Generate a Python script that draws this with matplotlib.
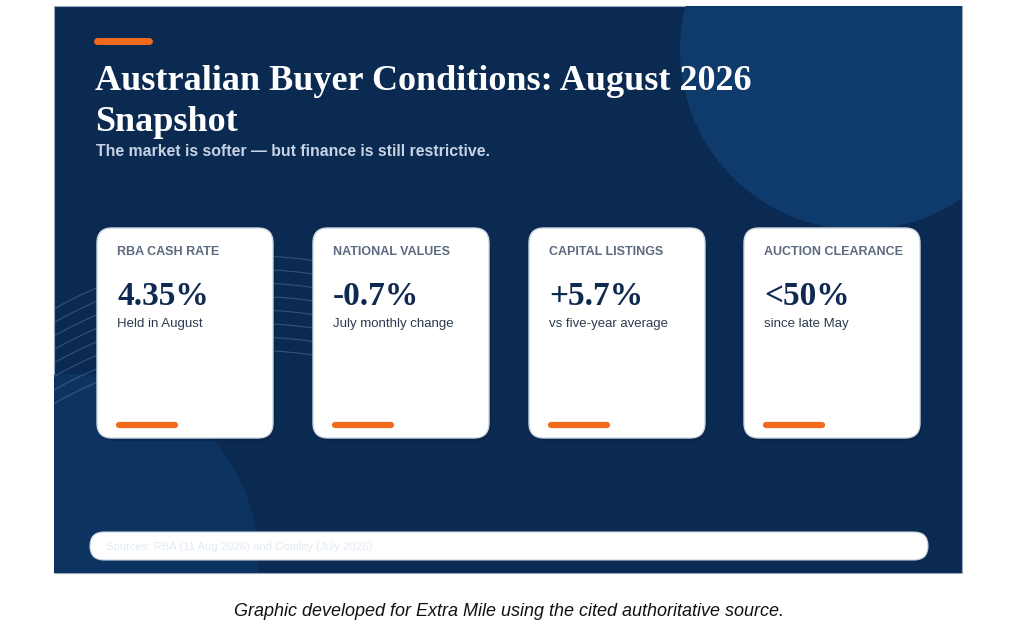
import matplotlib
matplotlib.use("Agg")
import matplotlib.pyplot as plt
from matplotlib.patches import FancyBboxPatch, Rectangle, Circle, Arc

# card data
labels = ["RBA CASH RATE", "NATIONAL VALUES", "CAPITAL LISTINGS", "AUCTION CLEARANCE"]
values = ["4.35%", "-0.7%", "+5.7%", "<50%"]
notes = ["Held in August", "July monthly change", "vs five-year average", "since late May"]

title_lines = ["Australian Buyer Conditions: August 2026", "Snapshot"]
subtitle = "The market is softer \u2014 but finance is still restrictive."
source = "Sources: RBA (11 Aug 2026) and Cotality (July 2026)"
caption = "Graphic developed for Extra Mile using the cited authoritative source."

NAVY = "#0a2a52"
ORANGE = "#f26b1d"

fig = plt.figure(figsize=(10.24, 6.4), dpi=100)
ax = fig.add_axes([0, 0, 1, 1])
ax.set_xlim(0, 1024)
ax.set_ylim(640, 0)
ax.axis("off")

# panel + decoration
panel = Rectangle((54, 6), 908, 567, facecolor=NAVY, edgecolor="#9aa8ba", lw=0.8, zorder=0)
ax.add_patch(panel)

deco = [Circle((860, 50), 180, facecolor="#0f3a6c", edgecolor="none", zorder=1),
        Circle((72, 560), 186, facecolor="#0d3361", edgecolor="none", zorder=1)]
for i in range(8):
    deco.append(Arc((253, 656 + 13.5 * i), 800, 800, theta1=-122, theta2=-79,
                    color="#7d9ccc", lw=0.8, alpha=0.35, zorder=1))
for p in deco:
    ax.add_patch(p)
    p.set_clip_path(panel)

# header
ax.plot([97, 149], [41, 41], color=ORANGE, lw=5, solid_capstyle="round", zorder=3)
for k, line in enumerate(title_lines):
    ax.text(95, 90 + 41 * k, line, color="white", fontsize=26, fontweight="bold",
            family="Liberation Serif", va="baseline", zorder=3)
ax.text(96, 152, subtitle, color="#c8d3e4", fontsize=11.4, fontweight="bold",
        family="Liberation Sans", va="center", zorder=3)

# cards
card_x = [97, 313, 529, 744]
card_w = 176
for x0, lab, val, note in zip(card_x, labels, values, notes):
    ax.add_patch(FancyBboxPatch((x0 + 2, 231), card_w, 210,
                                boxstyle="round,pad=0,rounding_size=15",
                                facecolor="#06193a", edgecolor="none", alpha=0.35, zorder=2))
    ax.add_patch(FancyBboxPatch((x0, 228), card_w, 210,
                                boxstyle="round,pad=0,rounding_size=15",
                                facecolor="white", edgecolor="#cfd8e3", lw=1, zorder=3))
    ax.text(x0 + 20, 252, lab, color="#5b6a7f", fontsize=9, fontweight="bold",
            family="Liberation Sans", va="center", zorder=4)
    ax.text(x0 + 20, 305, val, color="#0e2a50", fontsize=24, fontweight="bold",
            family="Liberation Serif", va="baseline", zorder=4)
    ax.text(x0 + 20, 324, note, color="#2c3b50", fontsize=9.5,
            family="Liberation Sans", va="center", zorder=4)
    ax.plot([x0 + 22, x0 + 78], [425, 425], color=ORANGE, lw=4.5,
            solid_capstyle="round", zorder=4)

# source pill
ax.add_patch(FancyBboxPatch((90, 532), 838, 28, boxstyle="round,pad=0,rounding_size=14",
                            facecolor="white", edgecolor="#c9d3df", lw=0.8, zorder=3))
ax.text(106, 547, source, color="#e3eaf3", fontsize=8.15, family="Liberation Sans",
        va="center", zorder=4)

ax.text(509, 612, caption, color="#111111", fontsize=13, style="italic",
        family="Liberation Sans", ha="center", va="center")

fig.savefig("out.png", dpi=100, facecolor="white")
